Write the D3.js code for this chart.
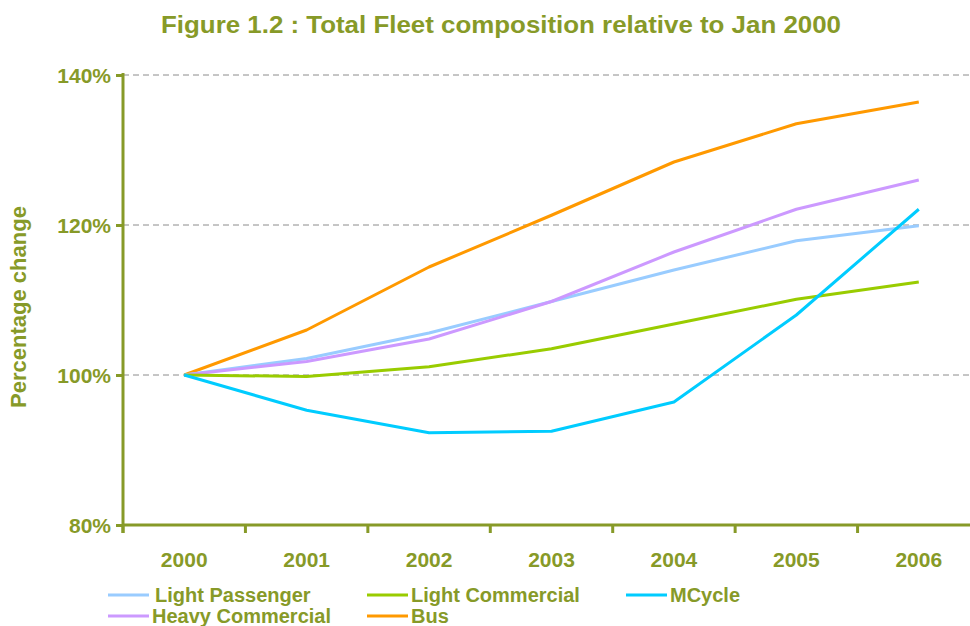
<!DOCTYPE html>
<html>
<head>
<meta charset="utf-8">
<script src="https://cdn.jsdelivr.net/npm/d3@7"></script>
<style>
  body { margin: 0; background: #fff; }
  text { font-family: "Liberation Sans", Arial, sans-serif; font-weight: bold; fill: #879a28; }
</style>
</head>
<body>
<div id="vis"></div>
<script>
// chart data
var years = ['2000', '2001', '2002', '2003', '2004', '2005', '2006'];
var yTicks = [80, 100, 120, 140];
var seriesNames = ['Light Passenger', 'Light Commercial', 'MCycle', 'Heavy Commercial', 'Bus'];
var seriesColors = ['#99ccff', '#99cc00', '#00ccff', '#cc99ff', '#ff9900'];
var lightPassenger = [100, 102.2, 105.6, 109.8, 114.0, 117.9, 119.9];
var lightCommercial = [100, 99.8, 101.1, 103.5, 106.8, 110.1, 112.4];
var mCycle = [100, 95.3, 92.3, 92.5, 96.4, 108.0, 122.1];
var heavyCommercial = [100, 101.8, 104.8, 109.8, 116.4, 122.1, 126.0];
var bus = [100, 106.0, 114.4, 121.3, 128.4, 133.5, 136.4];

var seriesValues = [lightPassenger, lightCommercial, mCycle, heavyCommercial, bus];
// draw order: bus under the rest, mcycle on top like the original
var drawOrder = [4, 0, 3, 1, 2];

var width = 970, height = 626;
// the band range runs a little past the right edge, as in the original
var plotLeft = 123, plotRight = 980, plotTop = 75, plotBottom = 525;
var olive = '#879a28';

var svg = d3.select('#vis').append('svg')
  .attr('width', width)
  .attr('height', height);

var x = d3.scaleBand().domain(years).range([plotLeft, plotRight]);
var y = d3.scaleLinear().domain([80, 140]).range([plotBottom, plotTop]);

// title
svg.append('text')
  .attr('x', 501).attr('y', 33)
  .attr('text-anchor', 'middle')
  .attr('font-size', 24)
  .attr('textLength', 680)
  .attr('lengthAdjust', 'spacingAndGlyphs')
  .text('Figure 1.2 : Total Fleet composition relative to Jan 2000');

// gridlines
svg.append('g')
  .selectAll('line')
  .data(yTicks.filter(function(d) { return d > 80; }))
  .enter().append('line')
  .attr('x1', plotLeft).attr('x2', width)
  .attr('y1', function(d) { return y(d); })
  .attr('y2', function(d) { return y(d); })
  .attr('stroke', '#8c8c8c')
  .attr('stroke-width', 1)
  .attr('stroke-dasharray', '6,4');

// y axis
var yAxis = svg.append('g')
  .attr('transform', 'translate(' + plotLeft + ',0)')
  .call(d3.axisLeft(y).tickValues(yTicks).tickSize(7).tickPadding(5)
    .tickFormat(function(d) { return d + '%'; }));
yAxis.select('.domain').remove();
yAxis.append('line')
  .attr('x1', 0).attr('x2', 0)
  .attr('y1', plotTop - 2).attr('y2', plotBottom + 8)
  .attr('stroke', olive).attr('stroke-width', 3);
yAxis.selectAll('.tick line').attr('stroke', olive).attr('stroke-width', 3);
yAxis.selectAll('.tick text')
  .attr('font-size', 21)
  .attr('fill', olive)
  .attr('dy', '0.35em')
  .style('font-family', '"Liberation Sans", Arial, sans-serif')
  .style('font-weight', 'bold');

// x axis, ticks sit between the categories
var xAxisG = svg.append('g')
  .attr('transform', 'translate(0,' + plotBottom + ')');
xAxisG.append('line')
  .attr('x1', plotLeft).attr('x2', width)
  .attr('y1', 0).attr('y2', 0)
  .attr('stroke', olive).attr('stroke-width', 3);
xAxisG.selectAll('.xtick')
  .data(years)
  .enter().append('line')
  .attr('class', 'xtick')
  .attr('x1', function(d) { return x(d); })
  .attr('x2', function(d) { return x(d); })
  .attr('y1', 0).attr('y2', 8)
  .attr('stroke', olive).attr('stroke-width', 3);
xAxisG.selectAll('.xlabel')
  .data(years)
  .enter().append('text')
  .attr('class', 'xlabel')
  .attr('x', function(d) { return x(d) + x.bandwidth() / 2; })
  .attr('y', 42)
  .attr('text-anchor', 'middle')
  .attr('font-size', 21)
  .text(function(d) { return d; });

// y axis title
svg.append('text')
  .attr('transform', 'translate(26,307) rotate(-90)')
  .attr('text-anchor', 'middle')
  .attr('font-size', 22)
  .text('Percentage change');

// lines
var line = d3.line()
  .x(function(d, i) { return x(years[i]) + x.bandwidth() / 2; })
  .y(function(d) { return y(d); });

svg.append('g')
  .selectAll('path')
  .data(drawOrder)
  .enter().append('path')
  .attr('d', function(k) { return line(seriesValues[k]); })
  .attr('fill', 'none')
  .attr('stroke', function(k) { return seriesColors[k]; })
  .attr('stroke-width', 3)
  .attr('stroke-linejoin', 'round');

// legend
var legendPos = [
  { x: 108, y: 595 }, { x: 367, y: 595 }, { x: 626, y: 595 },
  { x: 108, y: 616 }, { x: 367, y: 616 }
];
var legend = svg.append('g')
  .selectAll('g')
  .data(seriesNames)
  .enter().append('g')
  .attr('transform', function(d, i) { return 'translate(' + legendPos[i].x + ',' + legendPos[i].y + ')'; });
legend.append('line')
  .attr('x1', 0).attr('x2', 41)
  .attr('y1', 0).attr('y2', 0)
  .attr('stroke', function(d, i) { return seriesColors[i]; })
  .attr('stroke-width', 3);
legend.append('text')
  .attr('x', function(d, i) { return i == 0 ? 47 : 44; })
  .attr('y', 0)
  .attr('dy', '0.35em')
  .attr('font-size', 20)
  .text(function(d) { return d; });
</script>
</body>
</html>
